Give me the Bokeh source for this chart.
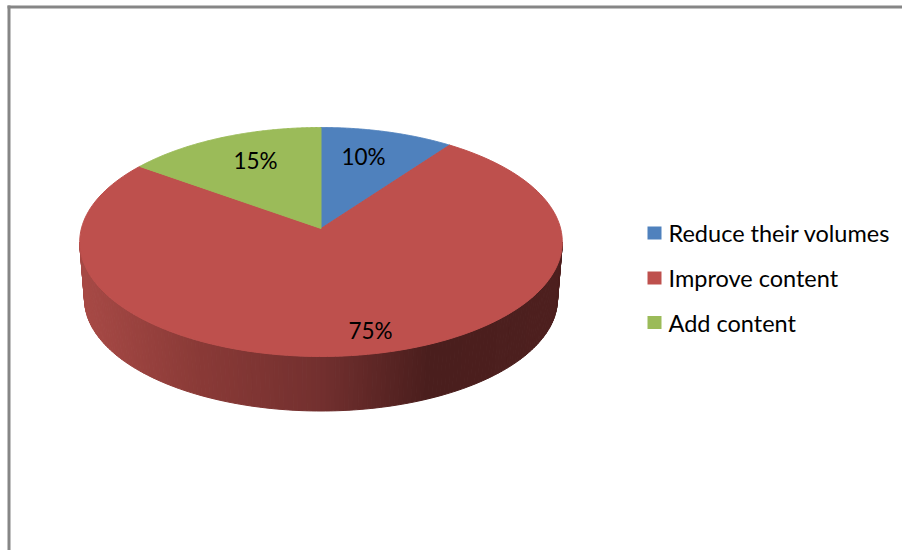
import numpy as np
from bokeh.core.properties import value
from bokeh.embed import file_html
from bokeh.models import Range1d
from bokeh.plotting import figure
from bokeh.resources import INLINE

categories = ["Reduce their volumes", "Improve content", "Add content"]
shares = [10, 75, 15]
labels = ["10%", "75%", "15%"]
colors = ["#4F81BD", "#BE504D", "#9BBB59"]

FONT = "Lato"
FRAME = "#868686"

# Top face of the pie: a tilted disc whose apex sits above the ellipse centre.
APEX_X, APEX_Y = 320.5, 228.0
SCALE_X, SCALE_Y, TILT = 239.6, 112.9, 0.1178
DEPTH_CY, DEPTH_RX, DEPTH_RY = 298.5, 236.5, 112.0
TOP_CY, TOP_RX, TOP_RY = 241.5, 241.3, 114.5


def disc_point(fraction):
    """Project a clockwise fraction of the disc (0 = twelve o'clock) to the page."""
    theta = 2 * np.pi * np.asarray(fraction)
    u, v = np.sin(theta), np.cos(theta)
    denom = 1 + TILT * v
    return APEX_X + SCALE_X * u / denom, APEX_Y - SCALE_Y * v / denom


def side_color(x):
    """Shade of the pie's rim: lit on the left, nearly black-red past the middle."""
    stops_x = [79, 200, 321, 430, 563]
    stops_r = [168, 138, 115, 74, 78]
    stops_g = [74, 58, 48, 30, 32]
    stops_b = [70, 55, 47, 29, 31]
    return "#%02x%02x%02x" % (
        int(np.interp(x, stops_x, stops_r)),
        int(np.interp(x, stops_x, stops_g)),
        int(np.interp(x, stops_x, stops_b)),
    )


p = figure(
    width=902,
    height=550,
    x_range=Range1d(0, 902),
    y_range=Range1d(550, 0),
    output_backend="svg",
    toolbar_location=None,
    min_border=0,
    outline_line_color=None,
    background_fill_color="white",
    border_fill_color="white",
)
p.axis.visible = False
p.grid.visible = False

# Chart frame: only the top and left edges fall inside the page.
p.segment(x0=[7, 8.5], y0=[6.5, 5], x1=[902, 8.5], y1=[6.5, 550], line_color=FRAME, line_width=3)

# Rim of the pie, built from narrow shaded strips along the front half.
angles = np.linspace(np.pi, 0, 161)
xs, ys, fills = [], [], []
for a0, a1 in zip(angles[:-1], angles[1:]):
    top0 = (APEX_X + TOP_RX * np.cos(a0), TOP_CY + TOP_RY * np.sin(a0))
    top1 = (APEX_X + TOP_RX * np.cos(a1), TOP_CY + TOP_RY * np.sin(a1))
    low0 = (APEX_X + DEPTH_RX * np.cos(a0), DEPTH_CY + DEPTH_RY * np.sin(a0))
    low1 = (APEX_X + DEPTH_RX * np.cos(a1), DEPTH_CY + DEPTH_RY * np.sin(a1))
    xs.append([top0[0], top1[0], low1[0], low0[0]])
    ys.append([top0[1], top1[1], low1[1], low0[1]])
    fills.append(side_color((top0[0] + top1[0]) / 2))
p.patches(xs, ys, fill_color=fills, line_color=fills, line_width=1)

# Top face wedges, each sized by its share.
start = 0.0
for share, color in zip(shares, colors):
    end = start + share / sum(shares)
    fx, fy = disc_point(np.linspace(start, end, 160))
    p.patch(
        np.concatenate([[APEX_X], fx]),
        np.concatenate([[APEX_Y], fy]),
        fill_color=color,
        line_color=color,
        line_width=1,
    )
    start = end

# Percentage labels on the wedges.
p.text(
    x=[363, 370, 255],
    y=[155.5, 329.5, 159.5],
    text=labels,
    text_font=value(FONT),
    text_font_size="22.5px",
    text_color="#000000",
    text_align="center",
    text_baseline="middle",
)

# Legend on the right.
legend_y = [232.5, 277.5, 322]
p.rect(x=[654] * 3, y=legend_y, width=14, height=13, fill_color=colors, line_color=None)
p.text(
    x=[668] * 3,
    y=legend_y,
    text=categories,
    text_font=value(FONT),
    text_font_size="23.5px",
    text_color="#000000",
    text_align="left",
    text_baseline="middle",
)

open("out.html", "w").write(file_html(p, INLINE))
